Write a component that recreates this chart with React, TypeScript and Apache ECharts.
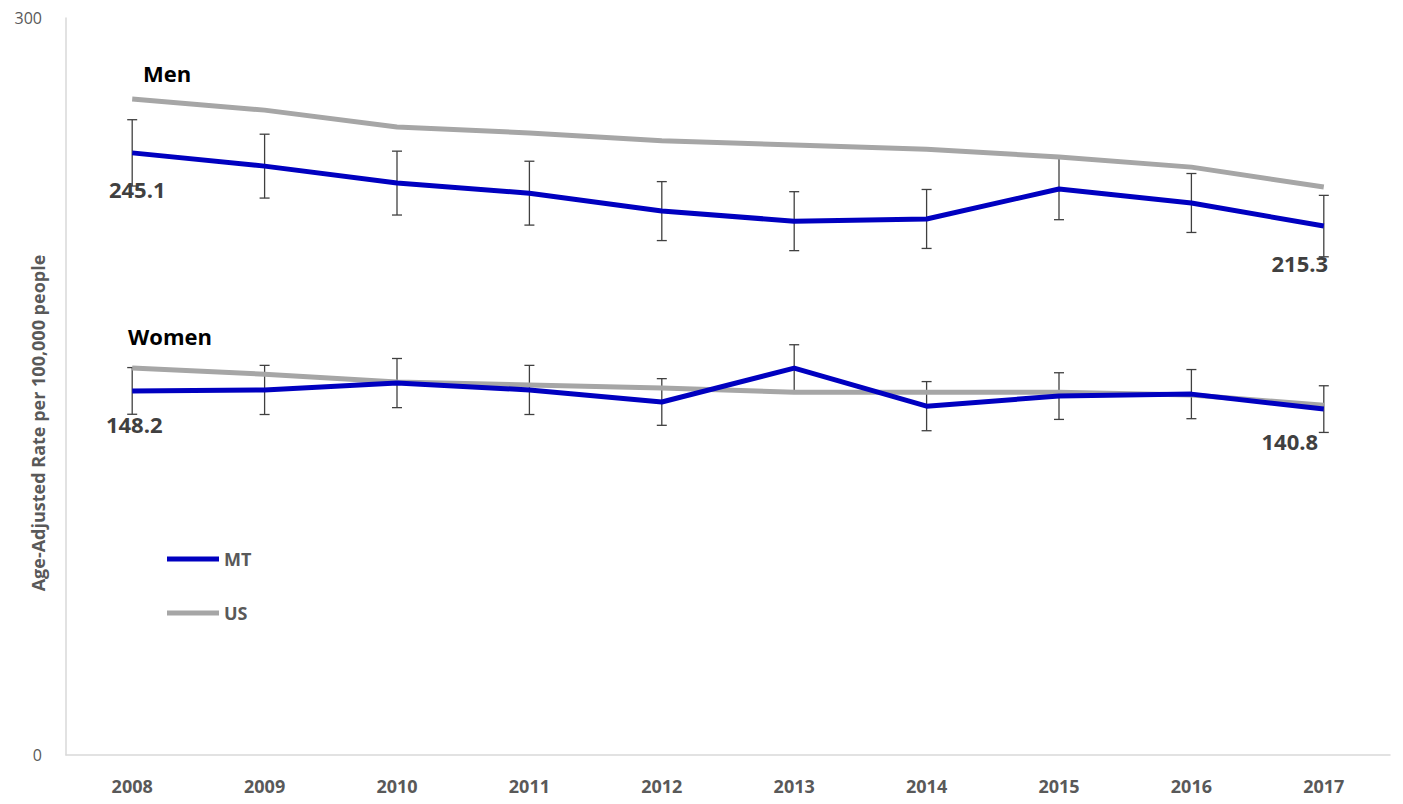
import { useEffect, useRef } from 'react';
import * as echarts from 'echarts';

const years = ['2008', '2009', '2010', '2011', '2012', '2013', '2014', '2015', '2016', '2017'];
const mtMen = [245.1, 239.7, 232.8, 228.7, 221.4, 217.3, 218.2, 230.4, 224.7, 215.3];
const mtMenErr = [13.5, 13, 13, 13, 12, 12, 12, 12.5, 12, 12.5];
const usMen = [267, 262.5, 255.6, 253.2, 250, 248.3, 246.6, 243.4, 239.3, 231.2];
const mtWomen = [148.2, 148.6, 151.4, 148.6, 143.7, 157.5, 142, 146.1, 146.9, 140.8];
const mtWomenErr = [9.5, 10, 10, 10, 9.5, 9.5, 10, 9.5, 10, 9.5];
const usWomen = [157.5, 155, 151.8, 150.6, 149.4, 147.7, 147.7, 147.7, 146.5, 142.4];

const BLUE = '#0000c0';
const GREY = '#a6a6a6';
const FONT = 'Open Sans, Noto Sans, sans-serif';

const errSeries = (vals: number[], errs: number[]) => ({
  type: 'custom' as const,
  z: 1,
  silent: true,
  data: vals.map((v, i) => [i, v - errs[i], v + errs[i]]),
  renderItem: (_p: any, api: any) => {
    const lo = api.coord([api.value(0), api.value(1)]);
    const hi = api.coord([api.value(0), api.value(2)]);
    const w = 5;
    const st = { stroke: '#404040', lineWidth: 1.3 };
    return {
      type: 'group',
      children: [
        { type: 'line', shape: { x1: lo[0], y1: lo[1], x2: hi[0], y2: hi[1] }, style: st },
        { type: 'line', shape: { x1: lo[0] - w, y1: lo[1], x2: lo[0] + w, y2: lo[1] }, style: st },
        { type: 'line', shape: { x1: hi[0] - w, y1: hi[1], x2: hi[0] + w, y2: hi[1] }, style: st },
      ],
    };
  },
});

const App = () => {
  const ref = useRef<HTMLDivElement>(null);

  useEffect(() => {
    if (!ref.current) return;
    const chart = echarts.init(ref.current, null, { renderer: 'svg' });
    const mkData = (arr: number[], first: number[], last: number[]) =>
      arr.map((v, i) => ({
        value: v,
        label:
          i === 0
            ? { show: true, offset: first }
            : i === arr.length - 1
            ? { show: true, offset: last }
            : { show: false },
      }));
    const lbl = {
      show: false,
      position: 'bottom' as const,
      fontFamily: FONT,
      fontWeight: 'bold' as const,
      fontSize: 22,
      color: '#404040',
    };
    chart.setOption({
      animation: false,
      textStyle: { fontFamily: FONT },
      grid: { left: 66, right: 13, top: 18, bottom: 49, outerBoundsMode: 'none', containLabel: false },
      legend: {
        orient: 'vertical',
        left: 162,
        top: 545,
        itemGap: 36,
        itemWidth: 52,
        itemHeight: 5,
        icon: 'rect',
        data: ['MT', 'US'],
        textStyle: { fontSize: 18, fontWeight: 'bold', color: '#595959', fontFamily: FONT },
      },
      graphic: [
        { type: 'text', left: 143, top: 62, style: { text: 'Men', fontSize: 22, fontWeight: 'bold', fill: '#000', fontFamily: FONT } },
        { type: 'text', left: 128, top: 325, style: { text: 'Women', fontSize: 22, fontWeight: 'bold', fill: '#000', fontFamily: FONT } },
        {
          type: 'text', x: 38, y: 423, rotation: Math.PI / 2,
          style: { text: 'Age-Adjusted Rate per 100,000 people', fontSize: 18, fontWeight: 'bold', fill: '#595959', fontFamily: FONT, align: 'center', verticalAlign: 'middle' },
        },
      ],
      xAxis: {
        type: 'category',
        data: years,
        boundaryGap: true,
        axisLine: { lineStyle: { color: '#d9d9d9', width: 1.5 } },
        axisTick: { show: false },
        axisLabel: { color: '#595959', fontSize: 18, fontWeight: 'bold', margin: 22 },
      },
      yAxis: {
        type: 'value',
        min: 0,
        max: 300,
        interval: 300,
        axisLine: { show: true, lineStyle: { color: '#d9d9d9', width: 1.5 } },
        axisTick: { show: false },
        splitLine: { show: false },
        axisLabel: { color: '#595959', fontSize: 16, margin: 24, verticalAlign: 'middle' },
      },
      series: [
        errSeries(mtMen, mtMenErr),
        errSeries(mtWomen, mtWomenErr),
        { name: 'US', type: 'line', data: usMen, symbol: 'none', lineStyle: { color: GREY, width: 5 }, itemStyle: { color: GREY }, z: 2 },
        { name: 'US', type: 'line', data: usWomen, symbol: 'none', lineStyle: { color: GREY, width: 5 }, itemStyle: { color: GREY }, z: 2 },
        { name: 'MT', type: 'line', data: mkData(mtMen, [5, 20], [-24, 21]), symbol: 'circle', symbolSize: 0.1, showSymbol: true, label: lbl, lineStyle: { color: BLUE, width: 5 }, itemStyle: { color: BLUE }, z: 3 },
        { name: 'MT', type: 'line', data: mkData(mtWomen, [2, 17], [-34, 16]), symbol: 'circle', symbolSize: 0.1, showSymbol: true, label: lbl, lineStyle: { color: BLUE, width: 5 }, itemStyle: { color: BLUE }, z: 3 },
      ],
    });
    return () => chart.dispose();
  }, []);

  return <div ref={ref} style={{ position: 'absolute', left: 0, top: 0, width: 1403, height: 804 }} />;
};

export default App;
